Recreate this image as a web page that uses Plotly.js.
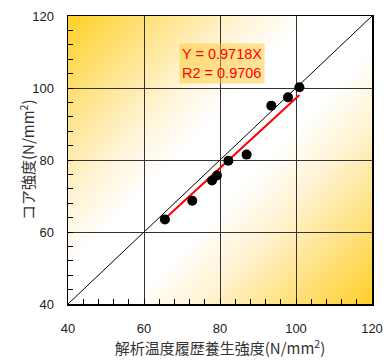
<!DOCTYPE html>
<html><head><meta charset="utf-8">
<script src="https://cdn.plot.ly/plotly-3.0.1.min.js"></script>
<style>html,body{margin:0;padding:0;background:#fff;}#chart{width:390px;height:363px;}</style>
</head><body><div id="chart"></div>
<script>
// Data
const xStrength = [65.5, 72.7, 77.9, 79.2, 82.2, 87.0, 93.5, 97.9, 100.9];
const yCore     = [63.5, 68.7, 74.3, 75.7, 79.8, 81.5, 95.1, 97.4, 100.2];
const slope = 0.9718;
const r2 = 0.9706;
const axisRange = [40, 120];
const tickVals = [40, 60, 80, 100, 120];

// gradient background image
function gradientImage() {
  const c = document.createElement('canvas');
  c.width = 304; c.height = 288;
  const g = c.getContext('2d');
  const lg = g.createLinearGradient(0, 0, c.width, c.height);
  const Y = 'rgb(255,208,40)';
  lg.addColorStop(0.0, Y);
  lg.addColorStop(0.14, 'rgb(255,224,120)');
  lg.addColorStop(0.30, 'rgb(255,243,210)');
  lg.addColorStop(0.42, 'rgb(255,255,255)');
  lg.addColorStop(0.58, 'rgb(255,255,255)');
  lg.addColorStop(0.70, 'rgb(255,243,210)');
  lg.addColorStop(0.86, 'rgb(255,224,120)');
  lg.addColorStop(1.0, Y);
  g.fillStyle = lg;
  g.fillRect(0, 0, c.width, c.height);
  return c.toDataURL('image/png');
}

const xMin = Math.min(...xStrength), xMax = Math.max(...xStrength);
const traces = [
  { x: axisRange, y: axisRange, mode: 'lines', line: {color: '#000', width: 1}, hoverinfo: 'skip' },
  { x: [xMin, xMax], y: [slope * xMin, slope * xMax], mode: 'lines', line: {color: '#ff0000', width: 2}, hoverinfo: 'skip' },
  { x: xStrength, y: yCore, mode: 'markers', marker: {color: '#000', size: 10} }
];

const tickFont = {family: 'Liberation Sans, Arial, sans-serif', size: 13, color: '#222'};
const titleFont = {family: 'Noto Sans CJK JP, sans-serif', size: 15, color: '#333'};
const axisCommon = {
  range: axisRange, tickvals: tickVals, ticks: 'inside', ticklen: 5, tickcolor: '#000',
  showline: true, linecolor: '#000', linewidth: 1.5, mirror: true,
  showgrid: true, gridcolor: '#333', gridwidth: 1, zeroline: false,
  tickfont: tickFont,
  minor: {dtick: 4, ticks: 'inside', ticklen: 5, tickcolor: '#000', showgrid: false}
};

const layout = {
  width: 390, height: 363,
  margin: {l: 68, r: 18, t: 16, b: 59},
  paper_bgcolor: '#fff', plot_bgcolor: 'rgba(0,0,0,0)',
  showlegend: false,
  xaxis: Object.assign({}, axisCommon, {
    ticklabelstandoff: 12,
    title: {text: '解析温度履歴養生強度(N/mm<sup>2</sup>)', font: titleFont, standoff: 6}
  }),
  yaxis: Object.assign({}, axisCommon, {
    ticklabelstandoff: 10
  }),
  images: [{
    source: gradientImage(), xref: 'paper', yref: 'paper', x: 0, y: 1,
    sizex: 1, sizey: 1, sizing: 'stretch', xanchor: 'left', yanchor: 'top', layer: 'below'
  }],
  annotations: [{
    xref: 'x', yref: 'y', x: 69.3, y: 112.6, xanchor: 'left', yanchor: 'top',
    align: 'left', showarrow: false,
    text: 'Y = ' + slope.toFixed(4) + 'X<br>R2 = ' + r2.toFixed(4),
    font: {family: 'Liberation Sans, Arial, sans-serif', size: 14.5, color: '#ff0000'},
    bgcolor: 'rgba(255,200,50,0.5)', borderpad: 2
  }, {
    xref: 'paper', yref: 'paper', x: -0.135, y: 0.5, xanchor: 'center', yanchor: 'middle',
    textangle: -90, showarrow: false,
    text: 'コア強度(N/mm<sup>2</sup>)', font: titleFont
  }]
};

Plotly.newPlot('chart', traces, layout, {displayModeBar: false, staticPlot: true});
</script></body></html>
